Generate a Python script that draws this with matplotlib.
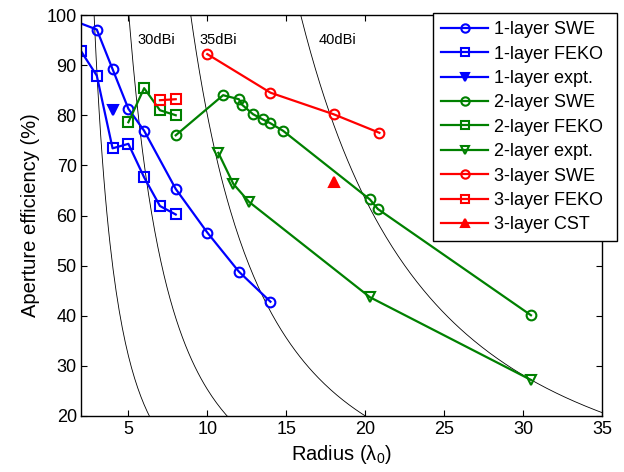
import matplotlib
matplotlib.use("Agg")
import matplotlib.pyplot as plt
import numpy as np

plt.rcParams["font.family"] = ["Liberation Sans", "DejaVu Sans"]
plt.rcParams["mathtext.fontset"] = "custom"
plt.rcParams["mathtext.rm"] = "Liberation Sans"
plt.rcParams["mathtext.it"] = "Liberation Sans"

# Aperture efficiency (%) against radius (wavelengths)
r1_swe = [1, 3, 4, 5, 6, 8, 10, 12, 14]
e1_swe = [99.5, 97.1, 89.2, 81.3, 76.9, 65.3, 56.6, 48.8, 42.8]
r1_feko = [2, 3, 4, 5, 6, 7, 8]
e1_feko = [92.8, 87.9, 73.4, 74.3, 67.6, 61.9, 60.2]
r1_expt = [4]
e1_expt = [81.1]

r2_swe = [8, 11, 12, 12.2, 12.9, 13.5, 14, 14.8, 20.3, 20.8, 30.5]
e2_swe = [76.0, 84.0, 83.2, 82.1, 80.2, 79.2, 78.4, 76.9, 63.2, 61.3, 40.1]
r2_feko = [5, 6, 7, 8]
e2_feko = [78.6, 85.4, 81.0, 80.0]
r2_expt = [10.7, 11.65, 12.65, 20.3, 30.5]
e2_expt = [72.5, 66.3, 62.7, 43.7, 27.2]

r3_swe = [10, 14, 18, 20.9]
e3_swe = [92.2, 84.5, 80.2, 76.5]
r3_feko = [7, 8]
e3_feko = [83.0, 83.2]
r3_cst = [18]
e3_cst = [66.7]

# constant-gain contours, directivity = eff * (2*pi*r)^2
gain_levels = [25, 30, 35, 40]
gain_labels = ["30dBi", "35dBi", "40dBi"]
label_pos = [(5.55, 95.0), (9.5, 95.0), (17.05, 95.0)]

BLUE = "#0000FF"
GREEN = "#008000"
RED = "#FF0000"

fig = plt.figure(figsize=(6.24, 4.72), dpi=100)
ax = fig.add_axes([81 / 624, 1 - 416 / 472, (602 - 81) / 624, (416 - 15) / 472])

radius = np.linspace(1.0, 40.0, 400)
for g in gain_levels:
    eff = 10 ** (g / 10) / (2 * np.pi * radius) ** 2 * 100
    ax.plot(radius, eff, color="black", lw=0.6)
for txt, (x, y) in zip(gain_labels, label_pos):
    ax.text(x, y, txt, fontsize=10.5, va="center", ha="left")

style = dict(lw=1.6, ms=7, mew=1.5)
ax.plot(r1_swe, e1_swe, "-o", color=BLUE, mfc="none", label="1-layer SWE", **style)
ax.plot(r1_feko, e1_feko, "-s", color=BLUE, mfc="none", label="1-layer FEKO", **style)
ax.plot(r1_expt, e1_expt, "-v", color=BLUE, mfc=BLUE, label="1-layer expt.", **style)
ax.plot(r2_swe, e2_swe, "-o", color=GREEN, mfc="none", label="2-layer SWE", **style)
ax.plot(r2_feko, e2_feko, "-s", color=GREEN, mfc="none", label="2-layer FEKO", **style)
ax.plot(r2_expt, e2_expt, "-v", color=GREEN, mfc="none", label="2-layer expt.", **style)
ax.plot(r3_swe, e3_swe, "-o", color=RED, mfc="none", label="3-layer SWE", **style)
ax.plot(r3_feko, e3_feko, "-s", color=RED, mfc="none", label="3-layer FEKO", **style)
ax.plot(r3_cst, e3_cst, "-^", color=RED, mfc=RED, label="3-layer CST", **style)

ax.set_xlim(2, 35)
ax.set_ylim(20, 100)
ax.set_xticks([5, 10, 15, 20, 25, 30, 35])
ax.set_yticks(np.arange(20, 101, 10))
ax.tick_params(direction="in", top=True, right=True, length=4, width=0.8,
               labelsize=13)
ax.tick_params(axis="x", pad=3.5)
ax.tick_params(axis="y", pad=3)
for s in ax.spines.values():
    s.set_linewidth(1.0)

ax.set_xlabel(r"Radius ($\lambda_0$)", fontsize=14.5, labelpad=4)
ax.set_ylabel("Aperture efficiency (%)", fontsize=14.5, labelpad=5)

# legend box pinned to the upper right, partly outside the axes
leg_top = 1 - 13 / 472
leg = ax.legend(loc="upper left",
                bbox_to_anchor=(433 / 624, leg_top - 0.6, (617 - 433) / 624, 0.6),
                bbox_transform=fig.transFigure, mode="expand", borderaxespad=0,
                fontsize=13, handlelength=2.6, handletextpad=0.35,
                labelspacing=0.41, borderpad=0.45, fancybox=False,
                framealpha=1, edgecolor="black")
leg.get_frame().set_linewidth(1.0)
for line in leg.get_lines():
    line.set_markersize(6)

fig.savefig("out.png", dpi=100)
